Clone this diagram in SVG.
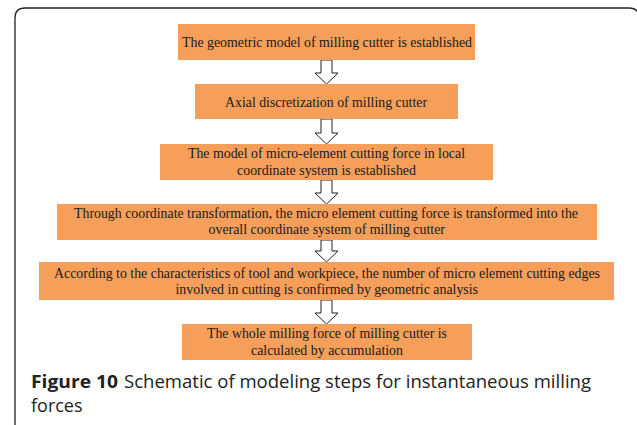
<svg xmlns="http://www.w3.org/2000/svg" width="637" height="425" viewBox="0 0 637 425">
<style>
.box{fill:#F59F5A;}
.t{font-family:"Liberation Serif","Times New Roman",serif;font-size:14.5px;fill:#1a1a1a;}
.arr{fill:#fff;stroke:#222;stroke-width:1;stroke-linejoin:miter;}
.frame{fill:none;stroke:#222;stroke-width:1.3;}
.cap{font-family:"Open Sans","Noto Sans",sans-serif;font-size:18px;fill:#222;}
.capb{font-weight:bold;}
</style>
<rect width="637" height="425" fill="#fff"/>
<path class="frame" d="M15,426 V18 Q15,8 25,8 H629 Q639,8 639,18 V426"/>
<g id="connectors">
<polygon class="arr" points="321,60 332,60 332,73 338,73 326.5,84 315,73 321,73"/>
<polygon class="arr" points="321,119 332,119 332,133 338,133 326.5,144 315,133 321,133"/>
<polygon class="arr" points="321,180 332,180 332,193 338,193 326.5,204 315,193 321,193"/>
<polygon class="arr" points="321,240 332,240 332,251 338,251 326.5,262 315,251 321,251"/>
<polygon class="arr" points="321,300 332,300 332,313 338,313 326.5,324 315,313 321,313"/>
</g>
<g id="n1">
<rect class="box" x="178" y="24" width="297" height="36"/>
<text class="t" x="182" y="47" textLength="290" lengthAdjust="spacingAndGlyphs">The geometric model of milling cutter is established</text>
</g>
<g id="n2">
<rect class="box" x="195" y="84" width="263" height="35"/>
<text class="t" x="225" y="107" textLength="202" lengthAdjust="spacingAndGlyphs">Axial discretization of milling cutter</text>
</g>
<g id="n3">
<rect class="box" x="160" y="144" width="333" height="36"/>
<text class="t" x="188" y="158" textLength="277" lengthAdjust="spacingAndGlyphs">The model of micro-element cutting force in local</text>
<text class="t" x="237" y="174.5" textLength="179" lengthAdjust="spacingAndGlyphs">coordinate system is established</text>
</g>
<g id="n4">
<rect class="box" x="57" y="204" width="540" height="36"/>
<text class="t" x="74" y="217.5" textLength="504" lengthAdjust="spacingAndGlyphs">Through coordinate transformation, the micro element cutting force is transformed into the</text>
<text class="t" x="208.5" y="234" textLength="236.5" lengthAdjust="spacingAndGlyphs">overall coordinate system of milling cutter</text>
</g>
<g id="n5">
<rect class="box" x="39" y="262" width="575" height="38"/>
<text class="t" x="54" y="277.5" textLength="546" lengthAdjust="spacingAndGlyphs">According to the characteristics of tool and workpiece, the number of micro element cutting edges</text>
<text class="t" x="175.5" y="294" textLength="302.5" lengthAdjust="spacingAndGlyphs">involved in cutting is confirmed by geometric analysis</text>
</g>
<g id="n6">
<rect class="box" x="182" y="324" width="290" height="36"/>
<text class="t" x="207" y="338" textLength="240" lengthAdjust="spacingAndGlyphs">The whole milling force of milling cutter is</text>
<text class="t" x="251" y="354.5" textLength="152" lengthAdjust="spacingAndGlyphs">calculated by accumulation</text>
</g>
<g id="caption">
<text class="cap capb" x="31" y="388" textLength="87" lengthAdjust="spacingAndGlyphs">Figure 10</text>
<text class="cap" x="124" y="388" textLength="467" lengthAdjust="spacingAndGlyphs">Schematic of modeling steps for instantaneous milling</text>
<text class="cap" x="31" y="412">forces</text>
</g>
</svg>
